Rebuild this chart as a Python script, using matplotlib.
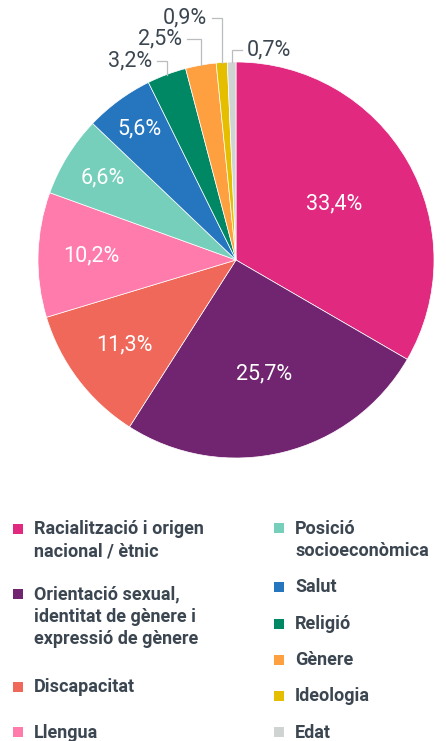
import matplotlib
matplotlib.use("Agg")
import matplotlib.pyplot as plt
from matplotlib.patches import Rectangle
import numpy as np

# ---- data ----
categories = ["Racialització i origen\nnacional / ètnic",
              "Orientació sexual,\nidentitat de gènere i\nexpressió de gènere",
              "Discapacitat", "Llengua", "Posició\nsocioeconòmica",
              "Salut", "Religió", "Gènere", "Ideologia", "Edat"]
values = [33.4, 25.7, 11.3, 10.2, 6.6, 5.6, 3.2, 2.5, 0.9, 0.7]
value_labels = ["33,4%", "25,7%", "11,3%", "10,2%", "6,6%", "5,6%",
                "3,2%", "2,5%", "0,9%", "0,7%"]

# ---- style / layout ----
colors = ["#E0297F", "#712470", "#F0685A", "#FF7BAC", "#75CFBA",
          "#2676BF", "#008864", "#FFA040", "#E6BE00", "#CFD3D2"]
TXT = "#3B4651"
W, H = 446, 741
CX, CY, R = 236, 260, 198
inside_r = [0.57, 0.59, 0.71, 0.73, 0.79, 0.82]
# outside labels: (label y px, horizontal direction, horizontal length)
outside = {6: (61, -1, 10), 7: (39, -1, 14), 8: (18, -1, 10), 9: (50, 1, 10)}

plt.rcParams['font.family'] = ['Roboto', 'DejaVu Sans']

fig = plt.figure(figsize=(W / 100, H / 100), dpi=100)

# pie axes in units where 1 = R px
top_px = 500
ax = fig.add_axes([0, (H - top_px) / H, 1, top_px / H])
ax.set_xlim(-CX / R, (W - CX) / R)
ax.set_ylim((CY - top_px) / R, CY / R)
ax.set_aspect('equal', adjustable='box')
ax.axis('off')

wedges, _ = ax.pie(values, colors=colors, startangle=90, counterclock=False,
                   radius=1, center=(0, 0),
                   wedgeprops=dict(edgecolor='white', linewidth=0.5))
ax.set_xlim(-CX / R, (W - CX) / R)
ax.set_ylim((CY - top_px) / R, CY / R)

for i, w in enumerate(wedges):
    mid = np.deg2rad((w.theta1 + w.theta2) / 2)
    if i < len(inside_r):
        r = inside_r[i]
        ax.text(r * np.cos(mid), r * np.sin(mid), value_labels[i],
                ha='center', va='center', color='white', fontsize=15.5)
    else:
        ly_px, d, L = outside[i]
        x0, y0 = np.cos(mid), np.sin(mid)
        ly = (CY - ly_px) / R
        x1 = x0 + d * L / R
        ax.plot([x0, x0, x1], [y0, ly, ly], color="#B9BDC0", lw=0.9,
                clip_on=False, solid_joinstyle='miter')
        ax.text(x1 + d * 5 / R, ly, value_labels[i],
                ha='left' if d > 0 else 'right', va='center',
                color=TXT, fontsize=15.5)

# legend overlay in pixel coords
lax = fig.add_axes([0, 0, 1, 1])
lax.set_xlim(0, W)
lax.set_ylim(H, 0)
lax.axis('off')
left_rows = [528.5, 594, 686.5, 732]
right_rows = [528, 587, 623.5, 659.5, 695.5, 732]
positions = [(18, y, 34) for y in left_rows] + [(279, y, 295) for y in right_rows]
for i, (cat, (mx, my, tx)) in enumerate(zip(categories, positions)):
    lax.add_patch(Rectangle((mx - 5, my - 5), 10, 10, color=colors[i], lw=0))
    for j, line in enumerate(cat.split("\n")):
        lax.text(tx, my + 5.5 + 22 * j, line, ha='left', va='baseline',
                 color=TXT, fontsize=13, fontweight='bold')

fig.savefig("out.png", dpi=100)
